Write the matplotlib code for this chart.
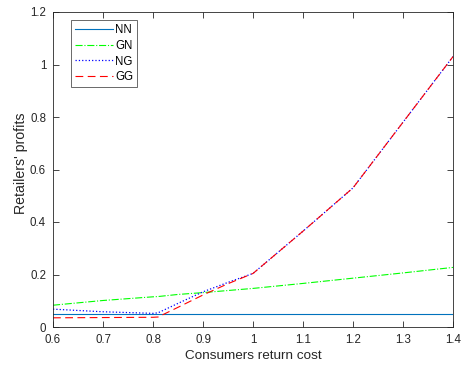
import matplotlib.pyplot as plt

# consumers return cost
x = [0.6, 0.7, 0.8, 0.81, 0.85, 0.9, 0.95, 1.0, 1.1, 1.2, 1.3, 1.4]

# retailers' profits for each scenario
nn = [0.051, 0.051, 0.051, 0.051, 0.051, 0.051, 0.051, 0.051, 0.051, 0.051, 0.051, 0.051]
gn = [0.083, 0.101, 0.115, 0.116, 0.124, 0.131, 0.139, 0.147, 0.166, 0.186, 0.206, 0.227]
ng = [0.068, 0.058, 0.052, 0.054, 0.090, 0.134, 0.170, 0.204, 0.365, 0.530, 0.780, 1.030]
gg = [0.035, 0.036, 0.037, 0.038, 0.075, 0.122, 0.165, 0.204, 0.365, 0.530, 0.780, 1.030]

plt.rcParams['font.family'] = ['Liberation Sans', 'DejaVu Sans']

fig = plt.figure(figsize=(4.63, 3.69), dpi=100)
ax = fig.add_axes([53 / 463, 1 - 327 / 369, 400 / 463, 315 / 369])

ax.plot(x, nn, '-', color='#0072BD', lw=0.8, label='NN')
ax.plot(x, gn, '-.', color='#00FF00', lw=0.8, label='GN')
ax.plot(x, ng, ':', color='#0000FF', lw=0.9, label='NG')
ax.plot(x, gg, '--', color='#FF0000', lw=0.8, dashes=(7, 4), label='GG')

ax.set_xlim(0.6, 1.4)
ax.set_ylim(0, 1.2)
ax.set_xticks([0.6, 0.7, 0.8, 0.9, 1, 1.1, 1.2, 1.3, 1.4])
ax.set_xticklabels(['0.6', '0.7', '0.8', '0.9', '1', '1.1', '1.2', '1.3', '1.4'])
ax.set_yticks([0, 0.2, 0.4, 0.6, 0.8, 1, 1.2])
ax.set_yticklabels(['0', '0.2', '0.4', '0.6', '0.8', '1', '1.2'])
ax.tick_params(direction='in', top=True, right=True, labelsize=8.3, length=4,
               width=0.6, colors='#262626')
ax.tick_params(axis='x', pad=5)
ax.tick_params(axis='y', pad=5)
for s in ax.spines.values():
    s.set_linewidth(0.6)
    s.set_color('#262626')

ax.set_xlabel('Consumers return cost', fontsize=9.7, color='#262626', labelpad=3)
ax.set_ylabel("Retailers' profits", fontsize=10.2, color='#262626')
ax.yaxis.set_label_coords(-0.063, 0.52)

leg = ax.legend(loc='upper left', bbox_to_anchor=(0.045, 0.975), fontsize=8.3,
                fancybox=False, edgecolor='#262626', handlelength=3.3,
                handletextpad=0.2, labelspacing=0.33, borderpad=0.35,
                borderaxespad=0)
leg.get_frame().set_linewidth(0.6)

plt.savefig('out.png', dpi=100)
